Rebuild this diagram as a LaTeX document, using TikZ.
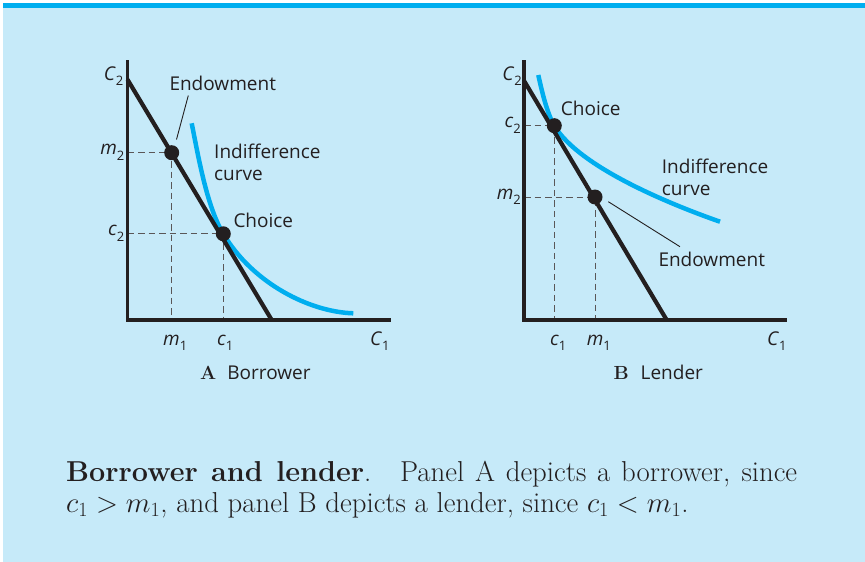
\RequirePackage{fix-cm}
\documentclass[tikz,border=0pt]{standalone}
\usepackage{fontspec}
\newfontfamily\lblfont{Open Sans}
\usetikzlibrary{calc}
\definecolor{bgblue}{RGB}{198,234,249}
\definecolor{barblue}{RGB}{0,174,239}
\definecolor{curveblue}{RGB}{0,174,239}
\definecolor{ink}{RGB}{35,31,32}
\newcommand\sublab[2]{\textit{#1}\raisebox{-0.28em}{\fontsize{13}{13}\selectfont #2}}
\tikzset{
  lbl/.style={font=\lblfont\fontsize{19}{22.5}\selectfont, inner sep=0pt, text=ink},
  paneltitle/.style={font=\lblfont\fontsize{19}{22.5}\selectfont, inner sep=0pt, text=ink},
  axisline/.style={line width=3.5pt, draw=ink},
  budget/.style={line width=4.2pt, draw=ink},
  indiff/.style={line width=4.5pt, draw=curveblue},
  guide/.style={line width=0.9pt, draw=ink!75, dash pattern=on 6.5pt off 4pt},
  leader/.style={line width=0.9pt, draw=ink},
  bigdot/.style={circle, fill=ink, minimum size=15pt, inner sep=0pt},
}
\begin{document}
\begin{tikzpicture}[x=1pt,y=-1pt]
\useasboundingbox (0,0) rectangle (865,562);
\fill[bgblue] (2.5,3) rectangle (865,562);
\fill[barblue] (2.5,3) rectangle (865,7.5);

% ---------------- Panel A: Borrower ----------------
\coordinate (Atop) at (127.5,60);
\coordinate (Ao) at (127.5,320);
\coordinate (Aend) at (391,320);
\coordinate (Abl0) at (127.5,79.5);
\coordinate (Abl1) at (271.7,320);
\coordinate (Aic0) at (191.7,123.3);
\coordinate (Aic1) at (353.3,313.3);
\coordinate (AE) at (171.7,152.7);
\coordinate (AC) at (223.3,233.8);

\draw[guide] (Ao |- AE) -- (AE) -- (AE |- Ao);
\draw[guide] (Ao |- AC) -- (AC) -- (AC |- Ao);
\draw[indiff] (Aic0) .. controls (198,155) and (207,207.5) .. (AC)
              .. controls (253,283.7) and (310,312) .. (Aic1);
\draw[budget] (Abl0) -- (Abl1);
\draw[axisline] (Atop) -- (Ao) -- (Aend);
\node[bigdot] (Aendow) at (AE) {};
\node[bigdot] (Achoice) at (AC) {};

\node[lbl, anchor=base west] (AendowLbl) at (169.3,90.7) {Endowment};
\coordinate (AL0) at (188.3,95.5);
\coordinate (AL1) at (176.5,139.5);
\draw[leader] (AL0) -- (AL1);
\node[lbl, anchor=base west] (AicLbl1) at (214,158.4) {Indifference};
\node[lbl, anchor=base west] (AicLbl2) at (214,180.5) {curve};
\node[lbl, anchor=base west] (AchoiceLbl) at (233.3,227.4) {Choice};

\node[lbl, anchor=base east] (AC2) at (123.5,80) {\sublab{C}{2}};
\node[lbl, anchor=mid east] (Am2) at (124.5,152.7) {\sublab{m}{2}};
\node[lbl, anchor=mid east] (Ac2) at (124.5,233.8) {\sublab{c}{2}};
\node[lbl, anchor=base west] (Am1) at (163,345) {\sublab{m}{1}};
\node[lbl, anchor=base west] (Ac1) at (217,345) {\sublab{c}{1}};
\node[lbl, anchor=base west] (AC1) at (370,345) {\sublab{C}{1}};
\node[paneltitle, anchor=base west] (Atitle) at (200,379)
  {{\rmfamily\bfseries\fontsize{19}{19}\selectfont A}\hspace{11pt}Borrower};

% ---------------- Panel B: Lender ----------------
\coordinate (Btop) at (524,60);
\coordinate (Bo) at (524,320);
\coordinate (Bend) at (787,320);
\coordinate (Bbl0) at (524,80.7);
\coordinate (Bbl1) at (666.7,320);
\coordinate (Bic0) at (538.3,75);
\coordinate (Bic1) at (720,221.7);
\coordinate (BE) at (595,197);
\coordinate (BC) at (554.3,125.7);

\draw[guide] (Bo |- BE) -- (BE) -- (BE |- Bo);
\draw[guide] (Bo |- BC) -- (BC) -- (BC |- Bo);
\draw[indiff] (Bic0) .. controls (542,92) and (547.3,114) .. (BC)
              .. controls (579.3,167.3) and (670,204.2) .. (Bic1);
\draw[budget] (Bbl0) -- (Bbl1);
\draw[axisline] (Btop) -- (Bo) -- (Bend);
\node[bigdot] (Bendow) at (BE) {};
\node[bigdot] (Bchoice) at (BC) {};

\node[lbl, anchor=base west] (BchoiceLbl) at (560.7,115.7) {Choice};
\node[lbl, anchor=base west] (BicLbl1) at (661.7,173.5) {Indifference};
\node[lbl, anchor=base west] (BicLbl2) at (661.7,195) {curve};
\node[lbl, anchor=base west] (BendowLbl) at (658.3,266.7) {Endowment};
\coordinate (BL0) at (608.3,201.7);
\coordinate (BL1) at (680,246.7);
\draw[leader] (BL0) -- (BL1);

\node[lbl, anchor=base east] (BC2) at (522,80) {\sublab{C}{2}};
\node[lbl, anchor=mid east] (Bc2) at (521,125.7) {\sublab{c}{2}};
\node[lbl, anchor=mid east] (Bm2) at (521,197) {\sublab{m}{2}};
\node[lbl, anchor=base west] (Bc1) at (550,345) {\sublab{c}{1}};
\node[lbl, anchor=base west] (Bm1) at (586.7,345) {\sublab{m}{1}};
\node[lbl, anchor=base west] (BC1) at (767,345) {\sublab{C}{1}};
\node[paneltitle, anchor=base west] (Btitle) at (613.3,379)
  {{\rmfamily\bfseries\fontsize{19}{19}\selectfont B}\hspace{12pt}Lender};

% ---------------- Caption ----------------
\node[anchor=base west, inner sep=0pt, text=ink] (caption) at (66,481)
  {\parbox[t]{731pt}{\fontsize{28.8}{31.5}\selectfont
   \textbf{Borrower and lender}.\quad Panel A depicts a borrower, since\linebreak
   $c_1 > m_1$, and panel B depicts a lender, since $c_1 < m_1$.}};
\end{tikzpicture}
\end{document}
